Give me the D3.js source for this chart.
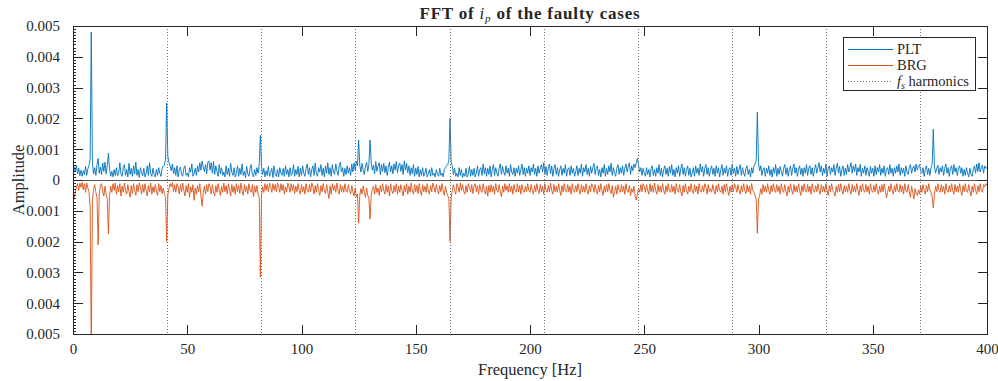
<!DOCTYPE html>
<html><head><meta charset="utf-8">
<script src="https://cdn.jsdelivr.net/npm/d3@7"></script>
<style>body{margin:0;background:#fff}svg{display:block}text{font-family:"Liberation Serif","Times New Roman",serif;fill:#262626}</style>
</head><body><svg id="c" width="998" height="381"></svg>
<script>
// Frequency grid step (Hz) of the FFT bins
const freqStep = 0.5;
// PLT amplitude, units of 1e-5 (bins 0..400 Hz)
const pltValues = [
50,42,28,48,20,38,14,32,12,30,18,44,15,36,46,68,480,55,20,40,15,50,70,22,42,18,55,28,58,20,48,87,36,12,28,10,34,15,40,14,
22,56,18,12,40,50,15,34,10,54,18,38,12,46,20,58,15,34,8,40,24,14,38,10,20,46,15,56,22,12,38,18,10,34,15,40,22,12,38,46,
48,68,250,78,56,46,30,52,20,40,15,46,10,34,42,18,12,38,46,15,22,10,40,26,52,12,20,38,15,46,26,56,32,62,42,28,50,20,58,62,
32,56,22,60,18,46,28,12,50,20,40,15,26,10,46,18,38,12,54,26,15,40,10,22,46,12,38,18,52,15,28,8,44,20,12,38,50,18,10,34,
15,40,22,50,145,44,18,38,10,30,15,44,12,22,38,8,46,18,12,34,10,40,22,15,38,12,46,18,34,10,40,15,22,50,12,34,18,44,10,38,
15,46,22,12,38,52,18,40,10,34,46,15,55,22,12,40,26,50,15,38,10,46,22,56,18,40,12,50,26,18,52,30,15,46,58,26,40,12,38,18,
46,22,40,15,52,26,56,32,60,46,130,48,26,54,32,18,46,58,28,50,130,56,32,48,20,60,28,46,56,18,50,28,54,24,46,15,40,58,26,46,
20,52,32,60,24,46,55,28,50,18,62,32,54,24,46,15,40,20,50,12,38,18,44,10,34,15,40,12,22,38,10,20,34,12,40,15,22,10,34,18,
12,38,15,22,10,34,40,46,50,64,200,60,44,18,38,12,22,10,40,15,34,8,22,12,38,10,20,44,12,34,15,38,10,22,46,12,34,40,15,52,
20,40,12,38,18,46,10,34,50,15,40,22,12,38,52,18,44,26,15,46,22,38,12,50,26,18,40,12,38,22,46,15,34,52,18,40,12,38,22,46,
15,40,26,52,18,38,12,46,22,40,50,26,56,18,44,15,38,52,20,46,12,38,50,18,40,12,34,46,15,38,22,50,12,34,40,15,46,22,38,12,
26,46,15,38,22,52,12,40,26,50,18,38,12,44,22,40,54,18,38,46,15,34,10,40,22,50,12,38,18,46,26,54,15,40,22,12,38,50,18,40,
22,46,15,38,52,26,44,56,18,46,30,52,40,56,70,48,26,40,15,38,22,12,40,18,34,10,38,46,15,34,12,40,22,50,15,38,10,34,46,18,
38,12,44,22,50,15,34,10,40,22,46,12,38,52,18,40,12,34,46,15,38,10,22,40,12,46,22,38,15,52,26,44,12,38,50,18,40,12,34,46,
18,38,12,46,22,40,10,34,50,15,38,22,46,12,34,40,15,52,22,38,12,44,18,34,50,15,40,22,12,38,46,18,34,10,40,22,46,52,64,220,
54,30,46,15,34,40,12,38,22,46,15,34,10,40,22,50,12,38,18,44,26,12,38,50,18,40,12,34,46,15,38,52,22,40,12,34,46,18,38,12,
40,22,50,15,38,46,18,40,12,34,50,22,40,56,26,46,15,38,22,52,12,38,46,18,40,26,50,15,38,54,22,44,12,34,46,15,38,18,50,26,
40,56,22,46,28,52,15,40,26,50,12,38,22,46,15,40,26,12,44,22,38,12,46,18,40,26,50,15,38,22,46,12,34,40,18,50,22,38,12,40,
22,46,26,52,15,40,22,38,12,46,26,18,40,50,22,38,46,26,52,32,44,50,28,22,40,12,34,46,18,38,15,40,50,165,44,22,38,48,18,40,
26,46,15,38,52,22,40,12,38,46,18,50,26,40,15,38,46,22,40,12,34,15,40,22,10,38,18,12,34,46,22,52,28,56,26,40,48,22,46,38,
40];
// BRG amplitude magnitude, units of 1e-5 (plotted downward)
const brgValues = [
70,60,42,22,12,34,10,24,8,32,12,40,10,26,38,88,560,68,30,15,40,56,210,44,18,12,38,52,20,46,62,175,50,20,40,12,34,10,46,18,
38,12,52,20,40,10,34,46,15,38,56,18,44,12,34,50,15,38,10,22,46,15,40,12,34,52,18,38,10,46,22,40,15,34,50,12,38,18,44,26,
46,56,200,50,26,12,22,8,38,15,40,12,22,46,15,38,10,34,52,18,40,12,56,22,40,15,66,26,46,18,38,12,52,85,40,20,46,15,38,12,
22,46,15,38,52,18,40,12,34,50,20,40,10,38,18,46,12,34,52,15,40,20,46,12,38,18,44,10,34,50,15,38,20,46,12,34,40,15,54,20,
40,18,46,56,315,50,22,40,12,34,15,38,10,22,40,12,34,15,38,10,20,40,12,34,15,46,22,38,10,20,40,12,34,15,44,20,38,12,34,46,
15,38,22,46,12,34,40,15,38,10,22,46,18,40,12,34,50,18,38,12,34,44,15,38,60,20,46,12,34,18,40,10,34,46,15,38,20,40,12,34,
40,15,34,46,18,38,52,26,56,46,140,50,28,46,20,40,56,26,50,60,127,50,28,20,46,15,40,26,50,18,38,12,34,46,15,40,20,52,12,34,
44,18,38,12,46,20,40,15,34,52,18,38,12,46,20,40,10,34,46,15,38,18,44,12,34,50,15,38,20,40,12,34,46,18,38,10,22,40,15,34,
46,18,38,12,34,50,20,40,50,62,200,58,34,15,34,46,12,22,40,10,34,15,38,46,18,40,12,22,38,15,44,20,12,38,18,46,15,34,40,12,
34,46,20,52,18,40,15,38,20,46,12,34,40,15,38,54,20,40,12,34,18,40,12,38,20,46,15,34,40,12,38,18,46,15,34,40,20,38,12,34,
40,15,34,46,18,38,12,34,44,15,38,20,46,12,34,40,18,38,10,34,46,15,38,20,40,12,34,50,18,38,12,34,40,15,38,20,46,12,34,40,
18,38,12,34,46,15,38,20,40,12,34,46,18,38,12,22,40,15,34,46,18,38,12,34,50,20,40,15,38,12,34,44,18,56,38,20,46,15,34,40,
15,38,20,46,12,34,40,18,50,28,40,20,52,65,46,26,40,15,38,12,22,40,15,34,46,12,38,18,40,10,34,46,15,38,20,40,12,34,46,18,
38,12,34,40,15,38,20,46,12,34,40,15,38,52,18,40,12,34,46,20,38,12,34,44,15,38,20,46,12,34,40,18,38,12,22,46,15,38,28,40,
15,34,46,18,38,12,34,40,20,46,15,38,12,34,50,20,40,15,38,12,22,40,15,34,46,18,38,12,34,44,15,38,20,46,12,34,40,50,64,173,
64,50,28,46,15,38,20,40,12,34,46,18,38,12,34,40,15,38,20,46,12,34,40,15,38,52,20,40,12,34,46,15,38,20,40,12,34,50,18,38,
12,34,40,15,38,20,46,12,34,40,18,38,12,34,46,15,38,20,40,12,34,50,18,38,12,34,40,52,20,40,15,38,12,34,46,18,38,20,40,12,
34,46,15,38,20,40,12,34,50,18,38,12,34,40,15,38,20,46,12,34,40,18,38,12,34,46,20,40,15,38,12,34,58,40,20,38,12,34,46,18,
38,12,34,40,15,38,20,46,12,34,40,15,38,56,20,40,62,28,46,50,32,46,20,40,15,34,46,18,38,12,34,40,55,90,46,20,38,12,34,40,
15,38,20,46,12,34,40,18,38,12,34,46,15,38,20,40,12,34,50,18,38,12,34,40,15,38,52,20,40,12,34,46,18,38,12,34,40,15,22,12,
18];
const valueUnit = 1e-5;
// f_s harmonics (Hz)
const fsHarmonics = [41.2, 82.4, 123.6, 164.8, 206.0, 247.2, 288.4, 329.6, 370.8];
const xTicks = [0, 50, 100, 150, 200, 250, 300, 350, 400];
const yTicks = [-0.005, -0.004, -0.003, -0.002, -0.001, 0, 0.001, 0.002, 0.003, 0.004, 0.005];
const seriesNames = ["PLT", "BRG"];
const seriesColors = ["#0072BD", "#D95319"];
const titleParts = ["FFT of ", "i", "p", " of the faulty cases"];

const svg = d3.select("#c");
const L = 73, R = 987, T = 26, B = 334;
const x = d3.scaleLinear().domain([0, 400]).range([L, R]);
const y = d3.scaleLinear().domain([-0.005, 0.005]).range([B, T]);
const axisCol = "#262626";

svg.append("defs").append("clipPath").attr("id", "clip")
  .append("rect").attr("x", L).attr("y", T).attr("width", R - L).attr("height", B - T);

const plt = pltValues.map((v, i) => [i * freqStep, v * valueUnit]);
const brg = brgValues.map((v, i) => [i * freqStep, -v * valueUnit]);
const line = d3.line().x(d => x(d[0])).y(d => y(d[1]));
const g = svg.append("g").attr("clip-path", "url(#clip)");
g.append("path").datum(plt).attr("d", line).attr("fill", "none").attr("stroke", seriesColors[0]).attr("stroke-width", 0.9);
g.append("path").datum(brg).attr("d", line).attr("fill", "none").attr("stroke", seriesColors[1]).attr("stroke-width", 0.9);

// harmonic lines
g.selectAll("line.h").data(fsHarmonics).join("line").attr("class", "h")
  .attr("x1", d => Math.round(x(d)) + 0.5).attr("x2", d => Math.round(x(d)) + 0.5)
  .attr("y1", T).attr("y2", B).attr("stroke", "#6e6e6e").attr("stroke-width", 1).attr("stroke-dasharray", "1,2");
// zero line
g.append("line").attr("x1", L).attr("x2", R).attr("y1", Math.round(y(0)) + 0.5).attr("y2", Math.round(y(0)) + 0.5)
  .attr("stroke", "#555").attr("stroke-width", 1);

// axes box
const ax = svg.append("g").attr("shape-rendering", "crispEdges");
ax.append("rect").attr("x", L + 0.5).attr("y", T + 0.5).attr("width", R - L - 0.5).attr("height", B - T)
  .attr("fill", "none").attr("stroke", axisCol).attr("stroke-width", 1);
// x ticks
const xAxB = d3.axisBottom(x).tickValues(xTicks).tickSize(-9).tickPadding(9).tickFormat(d3.format("d"));
const gxb = svg.append("g").attr("transform", `translate(0,${B})`).call(xAxB);
const xAxT = d3.axisTop(x).tickValues(xTicks).tickSize(-9).tickFormat("");
const gxt = svg.append("g").attr("transform", `translate(0,${T + 1})`).call(xAxT);
// y ticks
const yAxL = d3.axisLeft(y).tickValues(yTicks).tickSize(-9).tickPadding(14).tickFormat(d => d === 0 ? "0" : d3.format(".3f")(Math.abs(d)));
const gyl = svg.append("g").attr("transform", `translate(${L + 1},0)`).call(yAxL);
const yAxR = d3.axisRight(y).tickValues(yTicks).tickSize(-9).tickFormat("");
const gyr = svg.append("g").attr("transform", `translate(${R},0)`).call(yAxR);
[gxb, gxt, gyl, gyr].forEach(s => {
  s.attr("font-family", null);
  s.select(".domain").remove();
  s.selectAll(".tick line").attr("stroke", axisCol).attr("shape-rendering", "crispEdges");
  s.selectAll("text").attr("font-size", 15).attr("fill", "#262626");
});
// minor y ticks on left
const minor = d3.range(-50, 51).map(k => k * 0.0001);
svg.append("g").selectAll("line").data(minor).join("line")
  .attr("x1", L).attr("x2", L + 3).attr("y1", d => Math.round(y(d)) + 0.5).attr("y2", d => Math.round(y(d)) + 0.5)
  .attr("stroke", axisCol).attr("stroke-width", 1).attr("shape-rendering", "crispEdges");

// title
const tt = svg.append("text").attr("x", (L + R) / 2).attr("y", 19).attr("text-anchor", "middle")
  .attr("font-size", 17).attr("font-weight", "bold").attr("letter-spacing", 0.8).attr("fill", "#000");
tt.append("tspan").text(titleParts[0]);
tt.append("tspan").attr("font-style", "italic").attr("font-weight", "normal").text(titleParts[1]);
tt.append("tspan").attr("font-style", "italic").attr("font-weight", "normal").attr("font-size", 11).attr("dy", 3).text(titleParts[2]);
tt.append("tspan").attr("dy", -3).text(titleParts[3]);

// axis labels
svg.append("text").attr("x", (L + R) / 2).attr("y", 375).attr("text-anchor", "middle").attr("font-size", 16.5).text("Frequency [Hz]");
svg.append("text").attr("transform", `translate(24,${(T + B) / 2}) rotate(-90)`).attr("text-anchor", "middle").attr("font-size", 16.5).text("Amplitude");

// legend
const lg = svg.append("g");
lg.append("rect").attr("x", 843.5).attr("y", 37.5).attr("width", 132).attr("height", 53).attr("fill", "#fff")
  .attr("stroke", axisCol).attr("stroke-width", 1).attr("shape-rendering", "crispEdges");
const rows = [49, 65, 81];
[0, 1].forEach(i => {
  lg.append("line").attr("x1", 848).attr("x2", 893).attr("y1", rows[i] + 0.5).attr("y2", rows[i] + 0.5)
    .attr("stroke", seriesColors[i]).attr("stroke-width", 1);
  lg.append("text").attr("x", 897).attr("y", rows[i] + 5).attr("font-size", 14.5).text(seriesNames[i]);
});
lg.append("line").attr("x1", 848).attr("x2", 893).attr("y1", rows[2] + 0.5).attr("y2", rows[2] + 0.5)
  .attr("stroke", "#6e6e6e").attr("stroke-width", 1).attr("stroke-dasharray", "1,2");
const ft = lg.append("text").attr("x", 897).attr("y", rows[2] + 5).attr("font-size", 14.5);
ft.append("tspan").attr("font-style", "italic").text("f");
ft.append("tspan").attr("font-style", "italic").attr("font-size", 10).attr("dy", 3).text("s");
ft.append("tspan").attr("dy", -3).text(" harmonics");
</script></body></html>
